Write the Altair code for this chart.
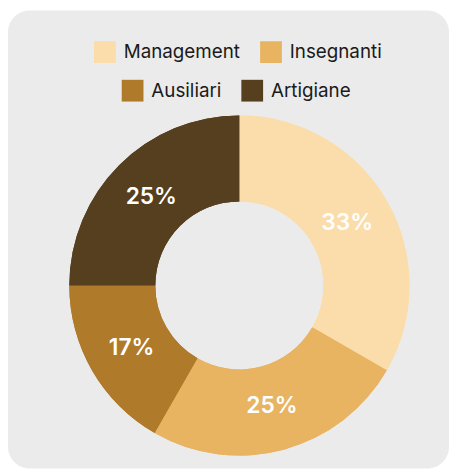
import altair as alt
import pandas as pd

categorie = ["Management", "Insegnanti", "Ausiliari", "Artigiane"]
valori = [33.3, 25.0, 16.7, 25.0]
etichette = ["33%", "25%", "17%", "25%"]
colori = ["#FADDAB", "#E8B461", "#B07A2B", "#553F1F"]

df = pd.DataFrame({
    "categoria": categorie,
    "categoria2": categorie,
    "valore": valori,
    "etichetta": etichette,
    "ordine": list(range(len(categorie))),
})

CX, CY = 234, 278
FONT = "Inter"

base = alt.Chart(df).encode(
    theta=alt.Theta("valore:Q", stack=True),
    order=alt.Order("ordine:Q"),
    x=alt.value(CX),
    y=alt.value(CY),
)

leg_common = dict(
    orient="none",
    direction="horizontal",
    title=None,
    symbolType="square",
    symbolSize=484,
    symbolStrokeWidth=0,
    labelFont=FONT,
    labelFontSize=19,
    labelColor="#1a1a1a",
    labelOffset=8,
    columnPadding=20,
    padding=0,
    labelLimit=300,
)

arcs1 = base.mark_arc(outerRadius=172, innerRadius=85).encode(
    color=alt.Color(
        "categoria:N",
        scale=alt.Scale(domain=categorie, range=colori),
        legend=alt.Legend(values=categorie[:2], legendX=87, legendY=31, **leg_common),
    )
)

arcs2 = base.mark_arc(outerRadius=172, innerRadius=85).encode(
    color=alt.Color(
        "categoria2:N",
        scale=alt.Scale(domain=categorie, range=colori),
        legend=alt.Legend(values=categorie[2:], legendX=115, legendY=70, **leg_common),
    )
)

text = base.mark_text(
    radius=126, font=FONT, fontSize=23, fontWeight=600, color="white",
    align="center", baseline="middle",
).encode(text="etichetta:N")

chart = (
    alt.layer(arcs1, arcs2, text)
    .resolve_scale(color="independent")
    .resolve_legend(color="independent")
    .properties(width=446, height=463, padding=0, autosize=alt.AutoSizeParams(type="none"))
    .configure(background="white")
    .configure_view(fill="#EBEBEB", stroke=None, cornerRadius=22)
)

chart.save("out.html", embed_options={"renderer": "svg", "actions": False})
